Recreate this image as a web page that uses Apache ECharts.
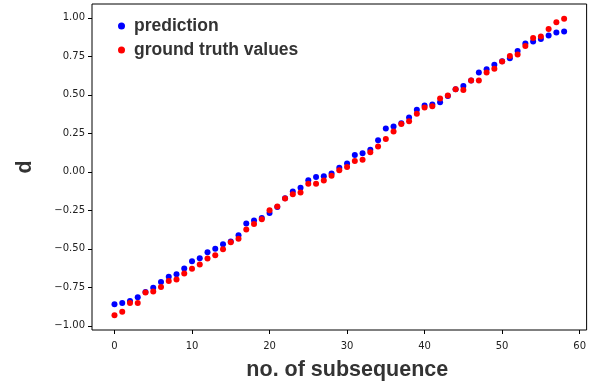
<!DOCTYPE html>
<html>
<head>
<meta charset="utf-8">
<script src="https://cdn.jsdelivr.net/npm/echarts@6/dist/echarts.min.js"></script>
<style>
  html, body { margin: 0; padding: 0; background: #fff; }
  #chart { width: 589px; height: 388px; }
</style>
</head>
<body>
<div id="chart"></div>
<script>
const subsequence = Array.from({ length: 59 }, (_, i) => i);
const prediction = [
  -0.859, -0.851, -0.838, -0.814, -0.780, -0.753, -0.716, -0.682, -0.665, -0.628,
  -0.580, -0.561, -0.522, -0.500, -0.470, -0.452, -0.411, -0.335, -0.316, -0.300,
  -0.268, -0.228, -0.172, -0.128, -0.104, -0.054, -0.034, -0.028, -0.011, 0.026,
  0.054, 0.110, 0.121, 0.143, 0.206, 0.281, 0.294, 0.316, 0.353, 0.403,
  0.431, 0.437, 0.452, 0.492, 0.537, 0.558, 0.593, 0.645, 0.667, 0.695,
  0.718, 0.738, 0.784, 0.833, 0.846, 0.862, 0.885, 0.905, 0.911
];
const groundTruth = [
  -0.931, -0.909, -0.851, -0.851, -0.784, -0.777, -0.747, -0.708, -0.699, -0.660,
  -0.630, -0.602, -0.563, -0.541, -0.502, -0.457, -0.435, -0.374, -0.338, -0.307,
  -0.249, -0.225, -0.173, -0.145, -0.134, -0.078, -0.078, -0.056, -0.026, 0.011,
  0.031, 0.071, 0.078, 0.128, 0.164, 0.214, 0.262, 0.310, 0.329, 0.377,
  0.418, 0.426, 0.476, 0.495, 0.537, 0.532, 0.593, 0.593, 0.645, 0.669,
  0.716, 0.753, 0.762, 0.818, 0.870, 0.879, 0.927, 0.972, 0.994
];
const xTicks = [0, 10, 20, 30, 40, 50, 60];
const yTicks = [-1, -0.75, -0.5, -0.25, 0, 0.25, 0.5, 0.75, 1];

const chart = echarts.init(document.getElementById('chart'));
const tickFont = { fontFamily: 'DejaVu Sans', fontSize: 10, color: '#222' };
const nameFont = { fontFamily: 'Liberation Sans', fontSize: 21.5, fontWeight: 'bold', color: '#333' };

chart.setOption({
  animation: false,
  grid: {
    left: 92, top: 4, width: 501, height: 326,
    show: true, borderColor: '#000', borderWidth: 1, backgroundColor: 'transparent'
  },
  legend: {
    orient: 'vertical',
    left: 113, top: 12,
    itemWidth: 7, itemHeight: 7, itemGap: 6,
    icon: 'circle',
    textStyle: { fontFamily: 'Liberation Sans', fontSize: 17.5, fontWeight: 'bold', color: '#333', padding: [0, 0, 0, 4] },
    data: ['prediction', 'ground truth values']
  },
  xAxis: {
    type: 'value',
    min: -2.9, max: 60.9,
    name: 'no. of subsequence', nameLocation: 'middle', nameGap: 29,
    nameTextStyle: Object.assign({ padding: [0, 0, 0, 16] }, nameFont),
    axisLine: { show: false, onZero: false },
    axisTick: { show: true, length: 4, customValues: xTicks, lineStyle: { color: '#000' } },
    axisLabel: Object.assign({ margin: 11, customValues: xTicks }, tickFont),
    splitLine: { show: false }
  },
  yAxis: {
    type: 'value',
    min: -1.027, max: 1.09,
    name: 'd', nameLocation: 'middle', nameGap: 56,
    nameTextStyle: nameFont,
    axisLine: { show: false, onZero: false },
    axisTick: { show: true, length: 4, customValues: yTicks, lineStyle: { color: '#000' } },
    axisLabel: Object.assign({
      margin: 7, customValues: yTicks,
      formatter: v => v.toFixed(2).replace('-', '\u2212')
    }, tickFont),
    splitLine: { show: false }
  },
  series: [
    {
      name: 'prediction', type: 'scatter', symbolSize: 6,
      itemStyle: { color: '#0000ff', opacity: 1 },
      data: subsequence.map((x, i) => [x, prediction[i]])
    },
    {
      name: 'ground truth values', type: 'scatter', symbolSize: 6,
      itemStyle: { color: '#ff0000', opacity: 1 },
      data: subsequence.map((x, i) => [x, groundTruth[i]])
    }
  ]
});
</script>
</body>
</html>
